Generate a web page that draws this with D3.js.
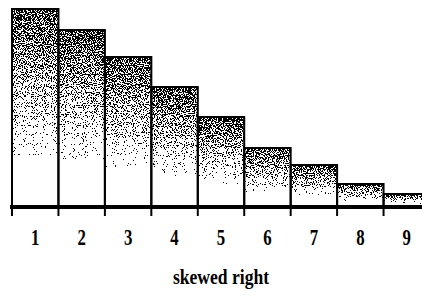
<!DOCTYPE html>
<html>
<head>
<meta charset="utf-8">
<script src="https://cdn.jsdelivr.net/npm/d3@7"></script>
<style>
html,body{margin:0;padding:0;background:#fff;overflow:hidden;}
svg{display:block;}
</style>
</head>
<body>
<svg id="chart" width="422" height="295"></svg>
<script>
// Data
const categories = ["1","2","3","4","5","6","7","8","9"];
const values = [198, 177, 150, 120, 90, 59, 42, 23, 13];
const title = "skewed right";

const W = 422, H = 295;
const svg = d3.select("#chart");

const x = d3.scaleBand().domain(categories).range([12, 430]).padding(0);
const y = d3.scaleLinear().domain([0, 200]).range([207, 7]);

const defs = svg.append("defs");
const grad = defs.append("linearGradient")
  .attr("id","g").attr("x1",0).attr("y1",0).attr("x2",0).attr("y2",1);
grad.append("stop").attr("offset","0%").attr("stop-color","#1e1e1e");
grad.append("stop").attr("offset","50%").attr("stop-color","#7a7a7a");
grad.append("stop").attr("offset","85%").attr("stop-color","#dedede");
grad.append("stop").attr("offset","100%").attr("stop-color","#ffffff");

const f = defs.append("filter").attr("id","dither")
  .attr("x",0).attr("y",0).attr("width",1).attr("height",1)
  .attr("color-interpolation-filters","sRGB");
f.append("feTurbulence").attr("type","fractalNoise").attr("baseFrequency",0.9)
  .attr("numOctaves",1).attr("seed",7).attr("result","noise");
f.append("feColorMatrix").attr("in","noise").attr("type","matrix")
  .attr("values","2.5 0 0 0 -0.75  2.5 0 0 0 -0.75  2.5 0 0 0 -0.75  0 0 0 0 1").attr("result","ng");
f.append("feComposite").attr("in","SourceGraphic").attr("in2","ng")
  .attr("operator","arithmetic").attr("k1",0).attr("k2",1).attr("k3",-1).attr("k4",0.5)
  .attr("result","diff");
const ct = f.append("feComponentTransfer").attr("in","diff");
["feFuncR","feFuncG","feFuncB"].forEach(n=>ct.append(n).attr("type","discrete").attr("tableValues","0 1"));
ct.append("feFuncA").attr("type","linear").attr("slope",0).attr("intercept",1);

const data = categories.map((c,i)=>({c, v: values[i]}));

// dithered fills
svg.append("g").selectAll("rect").data(data).join("rect")
  .attr("x", d=>x(d.c)).attr("y", d=>y(d.v))
  .attr("width", x.bandwidth()).attr("height", d=>y(0)-y(d.v))
  .attr("fill","url(#g)").attr("filter","url(#dither)");

// outlines
svg.append("g").selectAll("rect").data(data).join("rect")
  .attr("x", d=>x(d.c)).attr("y", d=>y(d.v))
  .attr("width", x.bandwidth()).attr("height", d=>y(0)-y(d.v))
  .attr("fill","none").attr("stroke","#000").attr("stroke-width",2);

// baseline
svg.append("line").attr("x1",10).attr("x2",W).attr("y1",y(0)).attr("y2",y(0))
  .attr("stroke","#000").attr("stroke-width",4);

// ticks at bar edges
svg.append("g").selectAll("line").data(categories).join("line")
  .attr("x1", d=>x(d)).attr("x2", d=>x(d))
  .attr("y1", y(0)).attr("y2", 216)
  .attr("stroke","#000").attr("stroke-width",2);

// category labels
svg.append("g").selectAll("text").data(categories).join("text")
  .attr("transform", d=>`translate(${x(d)+x.bandwidth()/2},245) scale(0.7,1)`)
  .attr("text-anchor","middle")
  .attr("font-family","'Liberation Serif', 'Times New Roman', serif")
  .attr("font-weight","bold").attr("font-size",24)
  .attr("fill","#000").text(d=>d);

// title
svg.append("text")
  .attr("transform","translate(221,284) scale(0.8,1)")
  .attr("text-anchor","middle")
  .attr("font-family","'Liberation Serif', 'Times New Roman', serif")
  .attr("font-weight","bold").attr("font-size",22)
  .attr("fill","#000").text(title);
</script>
</body>
</html>
